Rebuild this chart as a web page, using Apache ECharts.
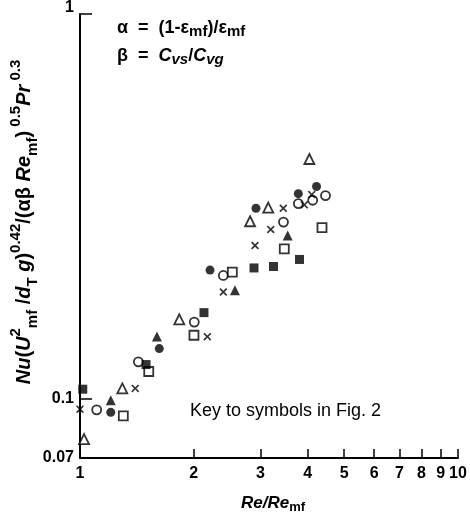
<!DOCTYPE html>
<html>
<head>
<meta charset="utf-8">
<script src="https://cdn.jsdelivr.net/npm/echarts@6/dist/echarts.min.js"></script>
<style>
  html, body { margin: 0; padding: 0; background: #fff; }
  #chart { width: 470px; height: 518px; }
</style>
</head>
<body>
<div id="chart"></div>
<script>
// ticks and labels
const xTickValues = [2, 3, 4, 5, 6, 7, 8, 9, 10];
const xLabelValues = [1, 2, 3, 4, 5, 6, 7, 8, 9, 10];
const yTickValues = [0.1, 1];
const yLabelValues = [0.07, 0.1, 1];

// [Re/Re_mf, Nu(...)], one array per symbol
const openCircle = [[1.107, 0.0934], [1.427, 0.1245], [2.006, 0.158], [2.394, 0.2089], [3.454, 0.2876], [4.461, 0.337], [3.781, 0.3213], [4.127, 0.3277]];
const filledCircle = [[1.206, 0.092], [1.621, 0.1348], [2.208, 0.2157], [2.921, 0.3124], [3.781, 0.341], [4.224, 0.356]];
const openTriangle = [[1.294, 0.1062], [1.025, 0.0784], [1.831, 0.1606], [2.818, 0.289], [3.148, 0.3137], [4.044, 0.4196]];
const filledTriangle = [[1.206, 0.099], [1.598, 0.145], [2.57, 0.1913], [3.544, 0.2653]];
const openSquare = [[1.302, 0.0901], [1.52, 0.1175], [2.002, 0.146], [2.529, 0.2131], [3.471, 0.245], [4.367, 0.2783]];
const filledSquare = [[1.017, 0.1057], [1.495, 0.1225], [2.128, 0.1672], [2.886, 0.2185], [3.25, 0.2204], [3.808, 0.2299]];
const crosses = [[1.0, 0.0938], [1.40, 0.1062], [2.172, 0.1448], [2.394, 0.1891], [2.904, 0.2499], [3.196, 0.275], [3.45, 0.3124], [4.102, 0.339], [3.922, 0.3188]];

const FONT = '"Liberation Sans", Arial, sans-serif';
const crossPath = 'path://M1.5,0 L5,3.5 L8.5,0 L10,1.5 L6.5,5 L10,8.5 L8.5,10 L5,6.5 L1.5,10 L0,8.5 L3.5,5 L0,1.5 Z';

function mk(data, symbol, size, open) {
  return {
    type: 'scatter',
    data: data,
    symbol: symbol,
    symbolSize: size,
    clip: false,
    silent: true,
    itemStyle: open
      ? { color: '#fff', borderColor: '#000', borderWidth: 1.8 }
      : { color: '#000' }
  };
}

const chart = echarts.init(document.getElementById('chart'));

chart.setOption({
  animation: false,
  backgroundColor: '#fff',
  grid: { left: 80, right: 12, top: 14, bottom: 60 },
  xAxis: {
    type: 'log',
    logBase: 10,
    min: 1,
    max: 10,
    axisLine: { show: true, onZero: false, lineStyle: { color: '#000', width: 2 } },
    axisTick: { show: true, inside: true, length: 9, customValues: xTickValues, lineStyle: { color: '#000', width: 1.5 } },
    axisLabel: { customValues: xLabelValues, margin: 8, color: '#000', fontSize: 16, fontWeight: 'bold', fontFamily: FONT },
    splitLine: { show: false },
    minorTick: { show: false }
  },
  yAxis: {
    type: 'log',
    logBase: 10,
    min: 0.07,
    max: 1,
    axisLine: { show: true, onZero: false, lineStyle: { color: '#000', width: 2 } },
    axisTick: { show: true, inside: true, length: 12, customValues: yTickValues, lineStyle: { color: '#000', width: 1.5 } },
    axisLabel: {
      customValues: yLabelValues, margin: 6, color: '#000', fontSize: 16, fontWeight: 'bold', fontFamily: FONT,
      formatter: v => {
        const s = String(+v.toPrecision(3));
        return v > 0.5 ? '{t|' + s + '}' : s;
      },
      rich: { t: { fontSize: 16, fontWeight: 'bold', fontFamily: FONT, padding: [0, 0, 12, 0] } }
    },
    splitLine: { show: false },
    minorTick: { show: false }
  },
  series: [
    mk(openCircle, 'circle', 9, true),
    mk(filledCircle, 'circle', 9, false),
    mk(openTriangle, 'triangle', 10, true),
    mk(filledTriangle, 'triangle', 10, false),
    mk(openSquare, 'rect', 9, true),
    mk(filledSquare, 'rect', 9, false),
    mk(crosses, crossPath, 8, false)
  ],
  graphic: [
    {
      type: 'text', left: 117, top: 19,
      style: {
        text: 'α  =  (1-ε{s|mf})/ε{s|mf}',
        font: 'bold 18px ' + FONT, fill: '#000',
        rich: { s: { fontSize: 15, fontWeight: 'bold', fontFamily: FONT, verticalAlign: 'bottom', padding: [7, 0, 0, 0] } }
      }
    },
    {
      type: 'text', left: 117, top: 47,
      style: {
        text: 'β  =  {i|C}{s|vs}/{i|C}{s|vg}',
        font: 'bold 18px ' + FONT, fill: '#000',
        rich: {
          i: { fontSize: 18, fontWeight: 'bold', fontStyle: 'italic', fontFamily: FONT },
          s: { fontSize: 15, fontWeight: 'bold', fontStyle: 'italic', fontFamily: FONT, verticalAlign: 'bottom', padding: [7, 0, 0, 0] }
        }
      }
    },
    {
      type: 'text', left: 190, top: 402,
      style: { text: 'Key to symbols in Fig. 2', font: '18px ' + FONT, fill: '#000' }
    },
    {
      type: 'text', x: 273, y: 503,
      style: {
        text: '{i|Re/Re}{s|mf}', align: 'center', verticalAlign: 'middle', fill: '#000',
        rich: {
          i: { fontSize: 17, fontWeight: 'bold', fontStyle: 'italic', fontFamily: FONT },
          s: { fontSize: 13, fontWeight: 'bold', fontFamily: FONT, verticalAlign: 'bottom', padding: [8, 0, 0, 0] }
        }
      }
    },
    {
      type: 'text', x: 24, y: 222, rotation: Math.PI / 2,
      style: {
        text: '{i|Nu}{n|(}{i|U}{p|2}{s|mf}{n| /}{i|d}{s|T}{i| g}{n|)}{p|0.42}{n|/(αβ }{i|Re}{s|mf}{n|)}{p| 0.5}{i|Pr}{p| 0.3}',
        align: 'center', verticalAlign: 'middle', fill: '#000',
        rich: {
          i: { fontSize: 20, fontWeight: 'bold', fontStyle: 'italic', fontFamily: FONT, lineHeight: 32 },
          n: { fontSize: 20, fontWeight: 'bold', fontFamily: FONT, lineHeight: 32 },
          p: { fontSize: 15, fontWeight: 'bold', fontFamily: FONT, verticalAlign: 'top', lineHeight: 32, padding: [0, 0, 12, 0] },
          s: { fontSize: 15, fontWeight: 'bold', fontFamily: FONT, verticalAlign: 'bottom', lineHeight: 32, padding: [10, 0, 0, 0] }
        }
      }
    }
  ]
});
</script>
</body>
</html>
